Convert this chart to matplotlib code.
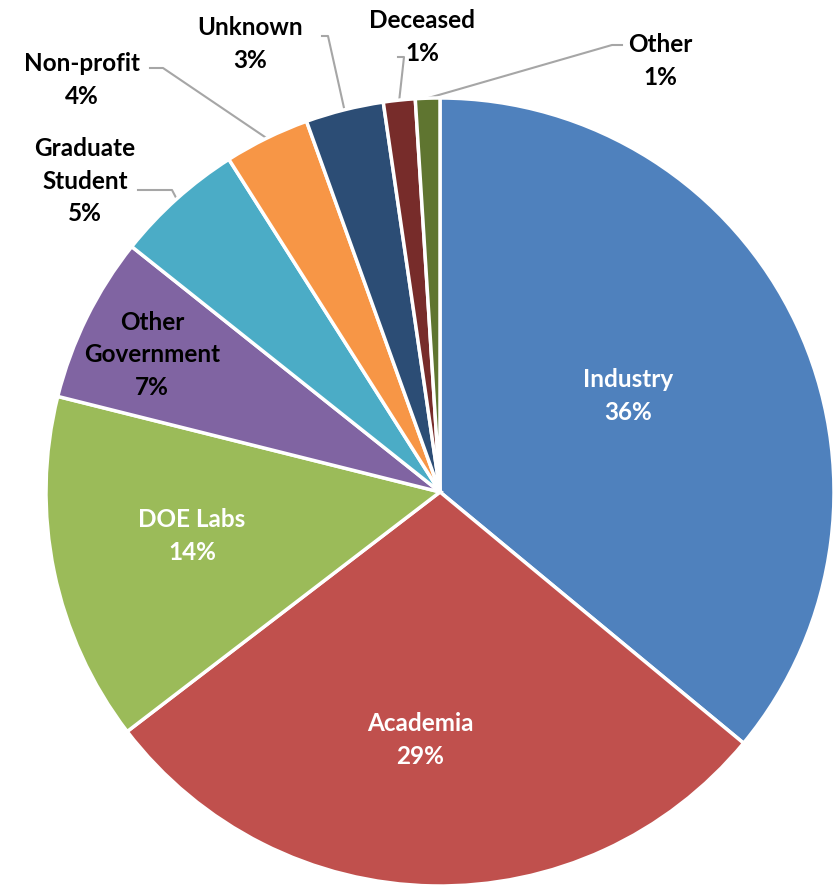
import matplotlib.pyplot as plt
import numpy as np

# data
categories = ['Industry', 'Academia', 'DOE Labs', 'Other\nGovernment', 'Graduate\nStudent',
              'Non-profit', 'Unknown', 'Deceased', 'Other']
shares = [36.0, 28.6, 14.3, 6.8, 5.3, 3.5, 3.2, 1.3, 1.0]
colors = ['#4F81BD', '#C0504D', '#9BBB59', '#8064A2', '#4BACC6',
          '#F79646', '#2C4D75', '#772C2A', '#5F7530']

plt.rcParams['font.family'] = ['Lato', 'DejaVu Sans']

W, H = 835, 885
cx, cy, R = 440, 492, 394

fig = plt.figure(figsize=(W / 100, H / 100), dpi=100)
ax = fig.add_axes([0, 0, 1, 1])

wedges, _ = ax.pie(shares, colors=colors, startangle=90, counterclock=False,
                   wedgeprops=dict(edgecolor='white', linewidth=2.5))

# pie() resets the limits, so set them afterwards
ax.set_xlim(-cx / R, (W - cx) / R)
ax.set_ylim(-(H - cy) / R, cy / R)
ax.set_aspect('equal')
ax.axis('off')


def px(x, y):
    return (x - cx) / R, (cy - y) / R


labels = [f'{c}\n{round(s)}%' for c, s in zip(categories, shares)]
fs = 17.5
ls = 1.5

# inside labels (pixel positions of text centres)
inside = {0: (628, 396, 'white'), 1: (420, 740, 'white'), 2: (192, 536, 'white'),
          3: (152, 355, 'black')}
for i, (x, y, col) in inside.items():
    tx, ty = px(x, y)
    ax.text(tx, ty, labels[i], ha='center', va='center', color=col,
            fontsize=fs, fontweight='bold', linespacing=ls)

# outside labels: text centre, elbow point of the leader line
outside = {4: ((85, 181), [(138, 190), (172, 190)]),
           5: ((82, 80), [(150, 68), (163, 68)]),
           6: ((250, 44), [(322, 36), (328, 36)]),
           7: ((422, 37), [(398, 57), (404, 57)]),
           8: ((660, 61), [(622, 45), (612, 45)])}
for i, ((x, y), pts) in outside.items():
    tx, ty = px(x, y)
    ax.text(tx, ty, labels[i], ha='center', va='center', color='black',
            fontsize=fs, fontweight='bold', linespacing=ls)
    w = wedges[i]
    mid = np.deg2rad((w.theta1 + w.theta2) / 2)
    xs = [px(*p)[0] for p in pts] + [np.cos(mid) * 1.0]
    ys = [px(*p)[1] for p in pts] + [np.sin(mid) * 1.0]
    ax.plot(xs, ys, color='#A6A6A6', linewidth=1.5, zorder=0.5)

fig.savefig('out.png', dpi=100)
